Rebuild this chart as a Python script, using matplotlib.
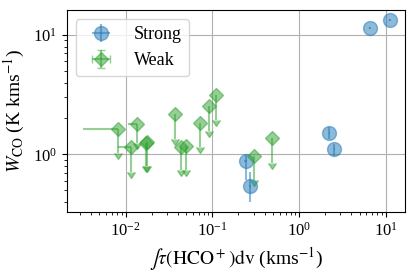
import matplotlib
matplotlib.use("Agg")
import matplotlib.pyplot as plt
import numpy as np

plt.rcParams['font.family'] = ['Liberation Serif', 'DejaVu Serif']
plt.rcParams['mathtext.fontset'] = 'stix'

# Strong absorbers (detections)
strong_x = np.array([0.242, 0.272, 2.24, 2.56, 6.50, 11.07])
strong_y = np.array([0.884, 0.548, 1.52, 1.10, 11.5, 13.4])
strong_yerr_lo = np.array([0.27, 0.15, 0.18, 0.13, 0.2, 0.2])
strong_yerr_hi = np.array([0.10, 0.17, 0.18, 0.13, 0.2, 0.2])
strong_xerr = np.array([0.01, 0.01, 0.05, 0.05, 0.05, 0.05])

# Weak absorbers (W_CO upper limits)
weak_x = np.array([0.0081, 0.0137, 0.0115, 0.0172, 0.0178, 0.0376, 0.0432,
                   0.0503, 0.0730, 0.0918, 0.1097, 0.302, 0.483])
weak_y = np.array([1.62, 1.80, 1.16, 1.24, 1.28, 2.16, 1.16,
                   1.17, 1.84, 2.54, 3.12, 0.97, 1.36])
weak_ybottom = np.array([1.02, 1.24, 0.715, 0.80, 0.80, 1.34, 0.74,
                         0.74, 1.16, 1.58, 1.94, 0.61, 0.85])
weak_xleft = np.array([0.0032, 0.0106, 0.0082, 0.0172, 0.0178, 0.0376, 0.0432,
                       0.0503, 0.0730, 0.0918, 0.1097, 0.302, 0.483])

fig, ax = plt.subplots(figsize=(4.15, 2.77), dpi=100)

ax.errorbar(strong_x, strong_y,
            yerr=[strong_yerr_lo, strong_yerr_hi], xerr=strong_xerr,
            fmt='o', color='C0', ms=10, alpha=0.5, label='Strong')

ax.errorbar(weak_x, weak_y,
            yerr=[weak_y - weak_ybottom, np.zeros_like(weak_y)],
            xerr=[weak_x - weak_xleft, np.zeros_like(weak_x)],
            uplims=True, fmt='D', color='C2', ms=7, alpha=0.5, label='Weak')

ax.set_xscale('log')
ax.set_yscale('log')
ax.set_xlim(0.0021, 16.7)
ax.set_ylim(0.33, 16.2)
ax.grid(True, which='major')
ax.set_axisbelow(True)

ax.set_xlabel(r'$\int\tau(\mathrm{HCO^+})\mathrm{dv}$ (kms$^{-1}$)', fontsize=14)
ax.set_ylabel(r'$W_{\mathrm{CO}}$ (K kms$^{-1}$)', fontsize=14)
ax.tick_params(labelsize=12)
ax.legend(loc='upper left', fontsize=13)

fig.subplots_adjust(left=0.161, right=0.976, bottom=0.235, top=0.964)
fig.savefig('out.png', dpi=100)
